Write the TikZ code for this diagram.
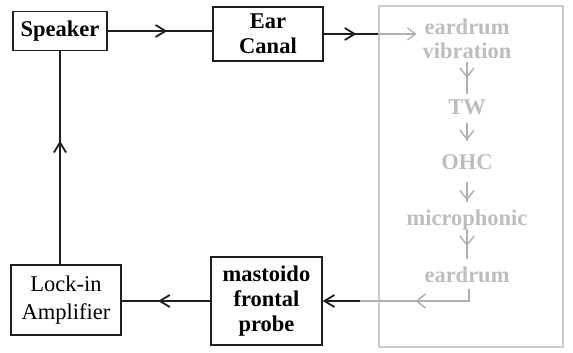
\documentclass[tikz,border=0pt]{standalone}
\usepackage{fontspec}
\setmainfont{Liberation Serif}
\usetikzlibrary{arrows.meta,decorations.markings}
\definecolor{paletext}{RGB}{188,188,194}
\definecolor{paleline}{RGB}{205,205,205}
\definecolor{palearrow}{RGB}{175,175,178}
\definecolor{ink}{RGB}{30,30,30}
\tikzset{
  blockbox/.style={draw=ink, line width=1.4pt, align=center, inner sep=0pt,
    font=\fontsize{22.5}{25}\selectfont\bfseries},
  plainbox/.style={blockbox, font=\fontsize{22.5}{28}\selectfont},
  stage/.style={text=paletext, align=center, inner sep=0pt,
    font=\fontsize{22.5}{24}\selectfont\bfseries},
  darktip/.tip={Straight Barb[length=10pt,width=12pt,line width=1.8pt]},
  lighttip/.tip={Straight Barb[length=8pt,width=12pt,line width=1.2pt]},
  midtip/.tip={Straight Barb[length=9pt,width=14pt,line width=1.5pt]},
  wire/.style={draw=ink, line width=1.3pt},
  palewire/.style={draw=palearrow, line width=1.3pt},
  darkmid/.style={postaction={decorate,decoration={markings,
    mark=at position #1 with {\arrow[ink]{darktip}}}}},
  lightmid/.style={postaction={decorate,decoration={markings,
    mark=at position #1 with {\arrow[palearrow]{midtip}}}}}
}
\begin{document}
\begin{tikzpicture}[x=1pt,y=-1pt]
\useasboundingbox (0,0) rectangle (573,353);

% measuring chain
\node[draw=paleline, line width=1.3pt, minimum width=184pt, minimum height=341pt,
      inner sep=0pt] (chain) at (471,176.5) {};
\node[stage] (ev)  at (467,39)    {eardrum\\vibration};
\node[stage] (tw)  at (467,107)   {TW};
\node[stage] (ohc) at (467,162.5) {OHC};
\node[stage] (mic) at (467,220)   {microphonic};
\node[stage] (ed)  at (467,274.5) {eardrum};

% signal path blocks
\node[blockbox, minimum width=94pt, minimum height=39pt] (spk) at (60,31) {Speaker};
\node[blockbox, minimum width=110pt, minimum height=54pt] (ear) at (268,34) {Ear\\Canal};
\node[blockbox, minimum width=111pt, minimum height=88pt] (mast) at (266.5,301) {mastoido\\frontal\\probe};
\node[plainbox, minimum width=110pt, minimum height=70pt] (lock) at (66,300) {Lock-in\\Amplifier};

\coordinate (gin)  at (chain.west |- ear.east);
\coordinate (gout) at (360,301);

% loop connectors
\draw[wire, darkmid=0.57] (spk.east) -- (spk.east -| ear.west);
\draw[wire, darkmid=0.6] (ear.east) -- (gin);
\draw[palewire, -{lighttip[palearrow]}, shorten >=6pt] (gin) -- (ev.west |- gin);
\draw[wire, -{darktip}] (gout) -- (mast.east);
\draw[wire, darkmid=0.59] (mast.west) -- (mast.west -| lock.east);
\draw[wire, darkmid=0.58] (lock.north -| spk.south) -- (spk.south);

% chain arrows
\draw[palewire, lightmid=0.5] ([yshift=-3pt]ev.south) -- ([yshift=5pt]tw.north);
\draw[palewire, lightmid=0.98] ([yshift=-8pt]tw.south) -- ([yshift=14pt]ohc.north);
\draw[palewire, lightmid=0.95] ([yshift=-12pt]ohc.south) -- ([yshift=8pt]mic.north);
\draw[palewire, lightmid=0.55] (mic.south) -- ([yshift=7pt]ed.north);
\draw[palewire, lightmid=66pt] ([xshift=2pt,yshift=-6pt]ed.south) |- (gout);
\end{tikzpicture}
\end{document}
